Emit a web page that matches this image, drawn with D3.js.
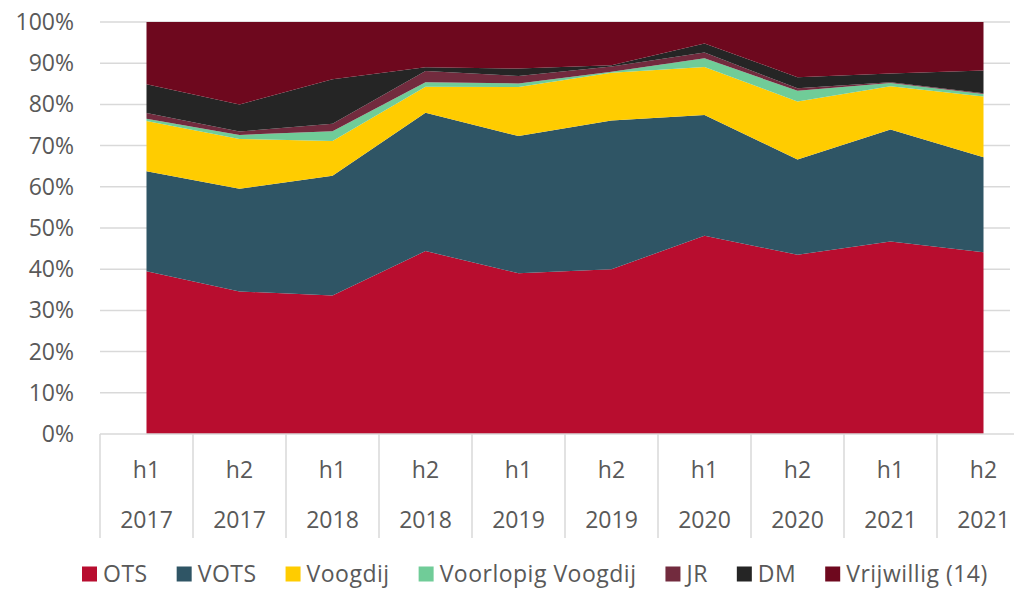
<!DOCTYPE html>
<html>
<head>
<meta charset="utf-8">
<script src="https://cdn.jsdelivr.net/npm/d3@7"></script>
<style>
	body { margin: 0; background: #fff; }
	svg { display: block; font-family: 'Open Sans', sans-serif; }
	.tick-label { fill: #595959; font-size: 23px; }
	.legend-label { fill: #595959; font-size: 23px; letter-spacing: 0.5px; }
</style>
</head>
<body>
<div id="viz"></div>
<script>
// chart data (percentages per half year)
const halves = ['h1', 'h2', 'h1', 'h2', 'h1', 'h2', 'h1', 'h2', 'h1', 'h2'];
const years = ['2017', '2017', '2018', '2018', '2019', '2019', '2020', '2020', '2021', '2021'];
const seriesNames = ['OTS', 'VOTS', 'Voogdij', 'Voorlopig Voogdij', 'JR', 'DM', 'Vrijwillig (14)'];
const seriesColors = ['#b80d2f', '#2f5565', '#ffcc00', '#70cc98', '#722b3e', '#252525', '#6e081e'];

const ots = [39.5, 34.6, 33.6, 44.4, 39.0, 40.0, 48.1, 43.5, 46.7, 44.1];
const vots = [24.3, 24.9, 29.1, 33.6, 33.3, 36.1, 29.3, 23.1, 27.2, 23.1];
const voogdij = [12.2, 12.1, 8.4, 6.3, 11.9, 11.6, 11.7, 14.1, 10.5, 14.7];
const voorlopigVoogdij = [0.5, 1.0, 2.4, 1.1, 0.9, 0.2, 2.1, 2.6, 0.8, 0.6];
const jr = [1.4, 0.8, 1.8, 2.7, 1.8, 1.3, 1.4, 0.6, 0.2, 0.2];
const dm = [7.0, 6.6, 10.8, 0.9, 1.8, 0.3, 2.2, 2.7, 2.1, 5.5];
const vrijwillig = [15.1, 20.0, 13.9, 11.0, 11.3, 10.5, 5.2, 13.4, 12.5, 11.8];

const yTicks = [0, 0.1, 0.2, 0.3, 0.4, 0.5, 0.6, 0.7, 0.8, 0.9, 1];

const seriesValues = [ots, vots, voogdij, voorlopigVoogdij, jr, dm, vrijwillig];

const rows = halves.map((h, i) => {
	const row = { idx: i };
	seriesNames.forEach((name, s) => { row[name] = seriesValues[s][i]; });
	return row;
});

const width = 1014;
const height = 589;

const svg = d3.select('#viz').append('svg')
	.attr('width', width)
	.attr('height', height);

const xScale = d3.scaleBand()
	.domain(d3.range(halves.length))
	.range([100, 1030])
	.paddingInner(0)
	.paddingOuter(0);

const xMid = (i) => xScale(i) + xScale.bandwidth() / 2;

const yScale = d3.scaleLinear()
	.domain([0, 1])
	.range([434, 22]);

// gridlines
svg.append('g')
	.selectAll('line')
	.data(yTicks.slice(1))
	.enter()
	.append('line')
	.attr('x1', 100)
	.attr('x2', 1010)
	.attr('y1', (d) => yScale(d))
	.attr('y2', (d) => yScale(d))
	.attr('stroke', '#d9d9d9')
	.attr('stroke-width', 1.5);

// stacked areas
const stack = d3.stack()
	.keys(seriesNames)
	.offset(d3.stackOffsetExpand);

const layers = stack(rows);

const area = d3.area()
	.x((d) => xMid(d.data.idx))
	.y0((d) => yScale(d[0]))
	.y1((d) => yScale(d[1]));

svg.append('g')
	.selectAll('path')
	.data(layers)
	.enter()
	.append('path')
	.attr('fill', (d, i) => seriesColors[i])
	.attr('d', area);

// y axis labels
svg.append('g')
	.selectAll('text')
	.data(yTicks)
	.enter()
	.append('text')
	.attr('class', 'tick-label')
	.attr('x', 74)
	.attr('y', (d) => yScale(d))
	.attr('dy', '0.35em')
	.attr('text-anchor', 'end')
	.text((d) => d3.format('.0%')(d));

// category axis
const xAxis = svg.append('g');

xAxis.append('line')
	.attr('x1', 100)
	.attr('x2', 1030)
	.attr('y1', 434)
	.attr('y2', 434)
	.attr('stroke', '#d9d9d9')
	.attr('stroke-width', 1.5);

const bounds = d3.range(halves.length + 1).map((i) => 100 + i * xScale.step());

xAxis.selectAll('.sep')
	.data(bounds)
	.enter()
	.append('line')
	.attr('class', 'sep')
	.attr('x1', (d) => d)
	.attr('x2', (d) => d)
	.attr('y1', 434)
	.attr('y2', 538)
	.attr('stroke', '#d9d9d9')
	.attr('stroke-width', 1.5);

xAxis.selectAll('.half')
	.data(halves)
	.enter()
	.append('text')
	.attr('class', 'tick-label half')
	.attr('x', (d, i) => xMid(i))
	.attr('y', 470)
	.attr('dy', '0.35em')
	.attr('text-anchor', 'middle')
	.text((d) => d);

xAxis.selectAll('.year')
	.data(years)
	.enter()
	.append('text')
	.attr('class', 'tick-label year')
	.attr('x', (d, i) => xMid(i))
	.attr('y', 520)
	.attr('dy', '0.35em')
	.attr('text-anchor', 'middle')
	.text((d) => d);

// legend
const legend = svg.append('g');
let lx = 82;
seriesNames.forEach((name, i) => {
	const item = legend.append('g').attr('transform', 'translate(' + lx + ',0)');
	item.append('rect')
		.attr('x', 0)
		.attr('y', 566.5)
		.attr('width', 15)
		.attr('height', 15)
		.attr('fill', seriesColors[i]);
	const t = item.append('text')
		.attr('class', 'legend-label')
		.attr('x', 21)
		.attr('y', 573.5)
		.attr('dy', '0.35em')
		.text(name);
	lx += 21 + t.node().getComputedTextLength() + 29;
});
</script>
</body>
</html>
